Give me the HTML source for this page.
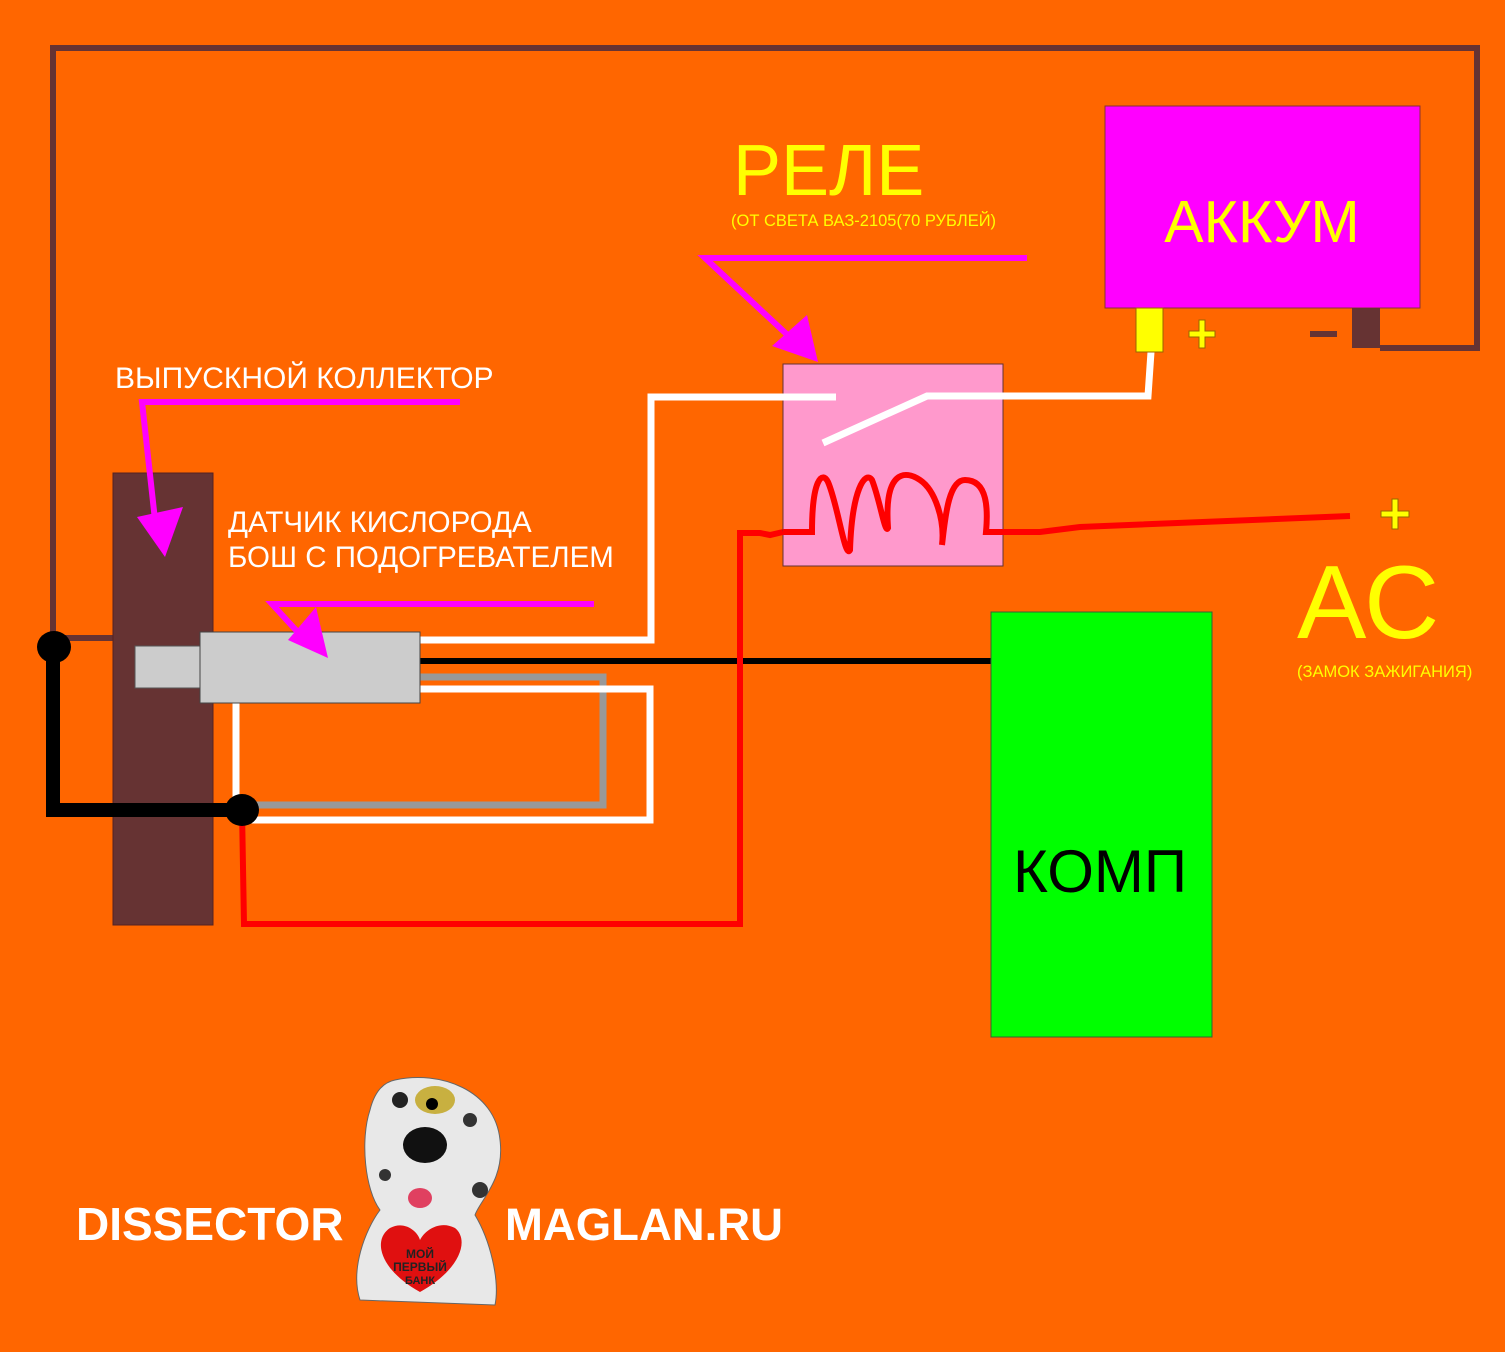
<!DOCTYPE html>
<html><head><meta charset="utf-8"><style>
html,body{margin:0;padding:0;background:#FF6600}
svg{display:block}
text{font-family:"Liberation Sans","DejaVu Sans",sans-serif}
</style></head><body>
<svg width="1505" height="1352" viewBox="0 0 1505 1352" xmlns="http://www.w3.org/2000/svg">
<rect width="1505" height="1352" fill="#FF6600"/>
<polyline points="53,638 53,48 1477,48 1477,348 1380,348" fill="none" stroke="#663333" stroke-width="6"/>
<line x1="53" y1="638" x2="113" y2="638" stroke="#663333" stroke-width="6"/>
<rect x="113" y="473" width="100" height="452" fill="#663333" stroke="#552222"/>
<!-- relay -->
<rect x="783" y="364" width="220" height="202" fill="#FF99CC" stroke="#663333"/>
<!-- wires -->
<polyline points="420,640 651,640 651,397 836,397" fill="none" stroke="#fff" stroke-width="7"/>
<polyline points="823,443 927,396 1148,396 1151,352" fill="none" stroke="#fff" stroke-width="7"/>
<line x1="420" y1="661" x2="991" y2="661" stroke="#000" stroke-width="6"/>
<polyline points="420,677 603,677 603,805 250,805" fill="none" stroke="#999" stroke-width="7"/>
<polyline points="420,689 650,689 650,820 236,820 236,703" fill="none" stroke="#fff" stroke-width="7"/>
<polyline points="242,810 244,924 740,924 740,533 760,533 770,535 783,532" fill="none" stroke="#f00" stroke-width="6"/>
<rect x="135" y="646" width="65" height="42" fill="#ccc" stroke="#555"/>
<rect x="200" y="632" width="220" height="71" fill="#ccc" stroke="#444"/>
<polyline points="53,647 53,810 242,810" fill="none" stroke="#000" stroke-width="14"/>
<ellipse cx="54" cy="647" rx="17" ry="16" fill="#000"/>
<ellipse cx="242" cy="810" rx="17" ry="16" fill="#000"/>
<path d="M783,532 L812,532 C812,480 822,470 828,482 C838,505 845,560 850,550 C852,490 865,470 872,480 C880,500 885,535 888,528 C884,470 905,470 920,480 C935,490 945,520 942,545 C945,520 948,480 965,480 C988,480 988,510 986,532 L1003,532" fill="none" stroke="#f00" stroke-width="6"/>
<path d="M1003,532 L1040,532 L1080,527 L1350,516" fill="none" stroke="#f00" stroke-width="6"/>
<!-- battery -->
<rect x="1105" y="106" width="315" height="202" fill="#FF00FF" stroke="#883333"/>
<text x="1262" y="242" font-size="59" fill="#FFFF00" text-anchor="middle">АККУМ</text>
<rect x="1136" y="308" width="27" height="44" fill="#FFFF00" stroke="#996600"/>
<rect x="1352" y="308" width="28" height="40" fill="#663333"/>
<path d="M1189,331h10v-11h6v11h10v6h-10v11h-6v-11h-10z" fill="#FFFF00" stroke="#996600"/>
<rect x="1310" y="331" width="27" height="6" fill="#663333"/>
<!-- comp -->
<rect x="991" y="612" width="221" height="425" fill="#00FF00" stroke="#336633"/>
<text x="1100" y="892" font-size="60" fill="#000" text-anchor="middle">КОМП</text>
<!-- labels -->
<text x="733" y="195" font-size="72" fill="#FFFF00">РЕЛЕ</text>
<text x="731" y="226" font-size="16.5" fill="#FFFF00">(ОТ СВЕТА ВАЗ-2105(70 РУБЛЕЙ)</text>
<text x="115" y="388" font-size="30" fill="#fff">ВЫПУСКНОЙ КОЛЛЕКТОР</text>
<text x="228" y="532" font-size="29.5" fill="#fff">ДАТЧИК КИСЛОРОДА</text>
<text x="228" y="567" font-size="29.5" fill="#fff">БОШ С ПОДОГРЕВАТЕЛЕМ</text>
<path d="M1381,511h11v-12h6v12h11v6h-11v12h-6v-12h-11z" fill="#FFFF00" stroke="#996600"/>
<text x="1297" y="638" font-size="104" fill="#FFFF00">АС</text>
<text x="1297" y="677" font-size="16.5" fill="#FFFF00">(ЗАМОК ЗАЖИГАНИЯ)</text>
<!-- magenta pointers -->
<polyline points="1027,258 705,258 795,342" fill="none" stroke="#FF00FF" stroke-width="6"/>
<polygon points="818,362 772,346 807,315" fill="#FF00FF"/>
<polyline points="460,402 142,402 155,520" fill="none" stroke="#FF00FF" stroke-width="6"/>
<polygon points="165,557 137,517 183,507" fill="#FF00FF"/>
<polyline points="594,604 272,604 305,640" fill="none" stroke="#FF00FF" stroke-width="6"/>
<polygon points="328,658 288,640 316,607" fill="#FF00FF"/>
<!-- footer -->
<text x="76" y="1240" font-size="46" font-weight="bold" fill="#fff">DISSECTOR</text>
<text x="505" y="1240" font-size="45.5" font-weight="bold" fill="#fff">MAGLAN.RU</text>
<!-- dog -->
<g>
<path d="M395,1080 C440,1070 495,1090 500,1140 C505,1180 480,1200 475,1215 C490,1240 500,1280 495,1305 L360,1300 C350,1270 365,1230 380,1210 C365,1190 360,1140 370,1110 C375,1090 385,1082 395,1080 Z" fill="#e8e8e8" stroke="#666"/>
<ellipse cx="435" cy="1100" rx="20" ry="14" fill="#c8b040"/>
<circle cx="432" cy="1104" r="6" fill="#000"/>
<ellipse cx="425" cy="1145" rx="22" ry="18" fill="#111"/>
<circle cx="400" cy="1100" r="8" fill="#222"/>
<circle cx="470" cy="1120" r="7" fill="#333"/>
<circle cx="385" cy="1175" r="6" fill="#333"/>
<circle cx="480" cy="1190" r="8" fill="#333"/>
<ellipse cx="420" cy="1198" rx="12" ry="10" fill="#e04060"/>
<path d="M420,1292 C380,1270 372,1240 390,1228 C405,1220 418,1232 420,1240 C425,1230 440,1220 455,1228 C470,1240 460,1270 420,1292 Z" fill="#e01010"/>
<text x="420" y="1258" font-size="12" font-weight="bold" fill="#222" text-anchor="middle">МОЙ</text>
<text x="420" y="1271" font-size="12" font-weight="bold" fill="#222" text-anchor="middle">ПЕРВЫЙ</text>
<text x="420" y="1284" font-size="11" font-weight="bold" fill="#222" text-anchor="middle">БАНК</text>
</g>
</svg>
</body></html>
